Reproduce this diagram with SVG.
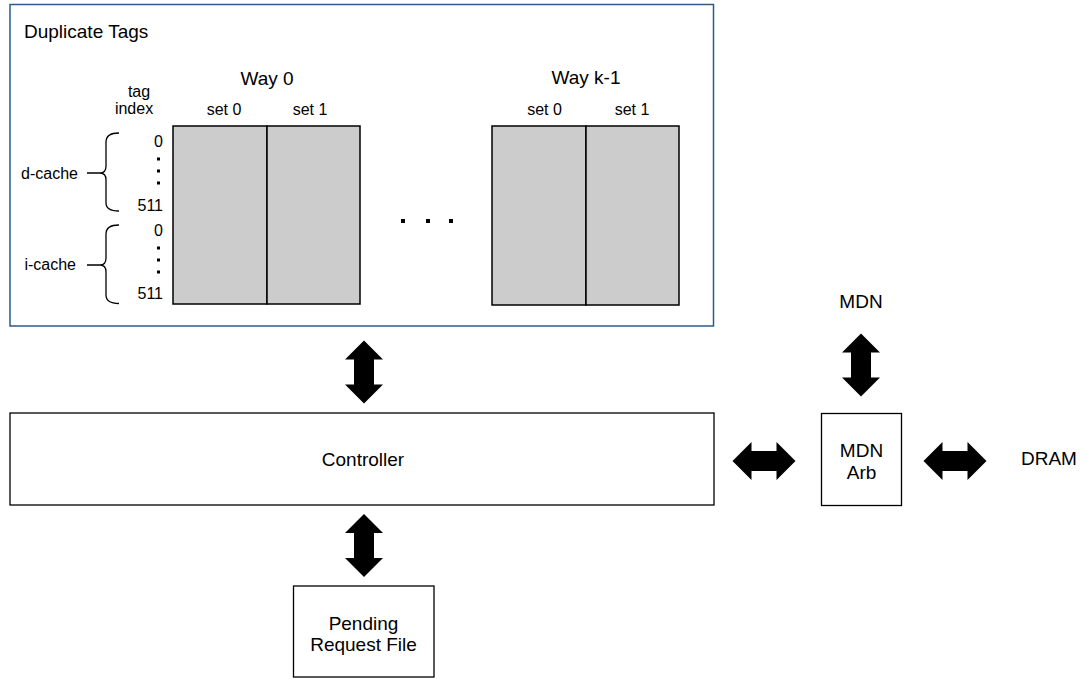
<svg xmlns="http://www.w3.org/2000/svg" width="1086" height="679" viewBox="0 0 1086 679">
  <defs>
    <style>
      text { font-family: "Liberation Sans", Arial, sans-serif; fill: #000; }
      .big { font-size: 19px; }
      .small { font-size: 16px; }
      .mid { text-anchor: middle; }
      .end { text-anchor: end; }
      .box { fill: #fff; stroke: #000; stroke-width: 1.3; }
      .way { fill: #cccccc; stroke: #000; stroke-width: 1.5; }
      .brace { fill: none; stroke: #000; stroke-width: 1.3; }
      .arrow { fill: #000; }
    </style>
    <polygon id="dblarrow" points="-31.5,0 -12.5,-19 -12.5,-10 12.5,-10 12.5,-19 31.5,0 12.5,19 12.5,10 -12.5,10 -12.5,19"/>
  </defs>
  <rect width="1086" height="679" fill="#fff"/>

  <g id="duplicate-tags">
    <rect x="10" y="4.5" width="703.5" height="321.5" fill="#fff" stroke="#2e5a8a" stroke-width="1.5"/>
    <text class="big" x="24" y="37.5">Duplicate Tags</text>

    <text class="small mid" x="139" y="97">tag</text>
    <text class="small mid" x="134" y="114">index</text>

    <g id="way0">
      <text class="big mid" x="267" y="85">Way 0</text>
      <text class="small mid" x="224" y="115">set 0</text>
      <text class="small mid" x="310" y="115">set 1</text>
      <rect class="way" x="173" y="126" width="94" height="178"/>
      <rect class="way" x="267" y="126" width="93" height="178"/>
    </g>

    <g id="wayk1">
      <text class="big mid" x="586" y="84">Way k-1</text>
      <text class="small mid" x="544.5" y="115">set 0</text>
      <text class="small mid" x="632" y="115">set 1</text>
      <rect class="way" x="492" y="126" width="94" height="179"/>
      <rect class="way" x="586" y="126" width="93" height="179"/>
    </g>

    <g id="ellipsis">
      <rect x="401" y="219" width="4" height="4"/>
      <rect x="426" y="219" width="4" height="4"/>
      <rect x="449" y="219" width="4" height="4"/>
    </g>

    <g id="d-cache">
      <text class="small end" x="78" y="179">d-cache</text>
      <path class="brace" d="M87,173 H100 M119,133 Q106,133 106,142 V166 Q106,173 100,173 Q106,173 106,180 V203 Q106,211 119,211"/>
      <text class="small end" x="163" y="147">0</text>
      <rect x="157" y="157.5" width="3" height="3"/>
      <rect x="157" y="169.5" width="3" height="3"/>
      <rect x="157" y="181.5" width="3" height="3"/>
      <text class="small end" x="163" y="211">511</text>
    </g>

    <g id="i-cache">
      <text class="small end" x="76" y="269.5">i-cache</text>
      <path class="brace" d="M87,265 H100 M119,225 Q106,225 106,234 V258 Q106,265 100,265 Q106,265 106,272 V295 Q106,303.5 119,303.5"/>
      <text class="small end" x="163" y="236">0</text>
      <rect x="157" y="246.5" width="3" height="3"/>
      <rect x="157" y="258.5" width="3" height="3"/>
      <rect x="157" y="270.5" width="3" height="3"/>
      <text class="small end" x="163" y="299">511</text>
    </g>
  </g>

  <g id="controller">
    <rect class="box" x="10" y="413" width="704" height="92"/>
    <text class="big mid" x="363" y="466">Controller</text>
  </g>

  <g id="pending-request-file">
    <rect class="box" x="293.5" y="586" width="140.5" height="91"/>
    <text class="big mid" x="363.5" y="630">Pending</text>
    <text class="big mid" x="363.5" y="651">Request File</text>
  </g>

  <g id="mdn-arb">
    <rect class="box" x="821.5" y="413.5" width="80" height="92"/>
    <text class="big mid" x="861.5" y="456.5">MDN</text>
    <text class="big mid" x="861.5" y="478.5">Arb</text>
  </g>

  <g id="mdn">
    <text class="big mid" x="861" y="308">MDN</text>
  </g>

  <g id="dram">
    <text class="big" x="1021" y="465">DRAM</text>
  </g>

  <g id="connectors" class="arrow">
    <use href="#dblarrow" transform="translate(364,372) rotate(90)"/>
    <use href="#dblarrow" transform="translate(364,545.5) rotate(90)"/>
    <use href="#dblarrow" transform="translate(861,365) rotate(90)"/>
    <use href="#dblarrow" transform="translate(764,461)"/>
    <use href="#dblarrow" transform="translate(955,461)"/>
  </g>
</svg>
